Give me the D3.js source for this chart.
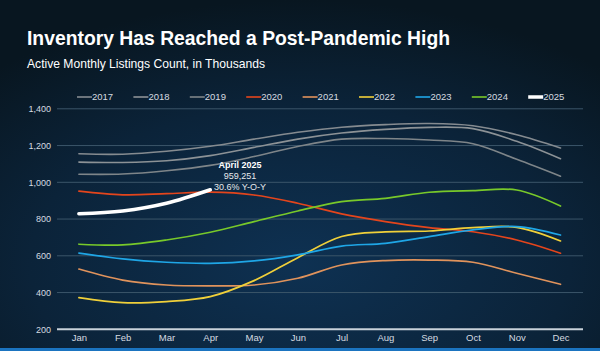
<!DOCTYPE html>
<html>
<head>
<meta charset="utf-8">
<script src="https://cdn.jsdelivr.net/npm/d3@7"></script>
<style>
  html, body { margin: 0; padding: 0; background: #08141e; }
  svg { display: block; font-family: "Liberation Sans", Arial, sans-serif; }
</style>
</head>
<body>
<svg id="chart" width="600" height="351"></svg>
<script>
const months = ["Jan", "Feb", "Mar", "Apr", "May", "Jun", "Jul", "Aug", "Sep", "Oct", "Nov", "Dec"];
const yTicks = [200, 400, 600, 800, 1000, 1200, 1400];
const years = ["2017", "2018", "2019", "2020", "2021", "2022", "2023", "2024", "2025"];

// values in thousands
const v2017 = [1155, 1153, 1169, 1196, 1235, 1272, 1300, 1314, 1320, 1308, 1259, 1187];
const v2018 = [1110, 1108, 1117, 1145, 1190, 1235, 1268, 1288, 1299, 1292, 1223, 1128];
const v2019 = [1044, 1045, 1063, 1092, 1140, 1195, 1235, 1238, 1230, 1210, 1125, 1033];
const v2020 = [952, 932, 938, 946, 931, 886, 828, 786, 753, 731, 686, 614];
const v2021 = [528, 468, 441, 436, 441, 478, 550, 574, 577, 565, 505, 445];
const v2022 = [372, 345, 351, 378, 465, 590, 705, 730, 735, 753, 755, 681];
const v2023 = [615, 583, 565, 559, 572, 605, 653, 668, 704, 741, 759, 713];
const v2024 = [663, 659, 686, 728, 786, 844, 895, 913, 946, 955, 958, 871];
const v2025 = [829, 844, 886, 959.251];

const seriesValues = [v2017, v2018, v2019, v2020, v2021, v2022, v2023, v2024, v2025];
const colors = ["#858b90", "#8c9296", "#7e8589", "#e4451c", "#e0935c", "#f0d03a", "#1fa6e6", "#78c92a", "#ffffff"];
const widths = [1.6, 1.6, 1.6, 1.7, 1.7, 1.7, 1.7, 1.7, 3.6];

const svg = d3.select("#chart");
const width = +svg.attr("width");
const height = +svg.attr("height");

//background
const defs = svg.append("defs");
const grad = defs.append("radialGradient")
  .attr("id", "bg")
  .attr("cx", "50%").attr("cy", "75%").attr("r", "75%");
grad.append("stop").attr("offset", "0%").attr("stop-color", "#0e3152");
grad.append("stop").attr("offset", "60%").attr("stop-color", "#0b2339");
grad.append("stop").attr("offset", "100%").attr("stop-color", "#081620");
svg.append("rect").attr("width", width).attr("height", height).attr("fill", "url(#bg)");
svg.append("rect").attr("x", 0).attr("y", 348).attr("width", width).attr("height", 3).attr("fill", "#1b74c0");

//titles
svg.append("text")
  .attr("x", 27).attr("y", 45)
  .attr("fill", "#ffffff")
  .attr("font-size", "21px")
  .attr("font-weight", "bold")
  .attr("textLength", 423)
  .attr("lengthAdjust", "spacingAndGlyphs")
  .text("Inventory Has Reached a Post-Pandemic High");
svg.append("text")
  .attr("x", 27).attr("y", 68)
  .attr("fill", "#ffffff")
  .attr("font-size", "13px")
  .attr("textLength", 238)
  .attr("lengthAdjust", "spacingAndGlyphs")
  .text("Active Monthly Listings Count, in Thousands");

//scales
const plotLeft = 57, plotRight = 583;
const x = d3.scalePoint().domain(months).range([78.9, 560.5]);
const y = d3.scaleLinear().domain([200, 1400]).range([329.3, 108.8]);

//grid
svg.append("g")
  .selectAll("line")
  .data(yTicks.filter(t => t > 200))
  .join("line")
  .attr("x1", plotLeft).attr("x2", plotRight)
  .attr("y1", d => y(d)).attr("y2", d => y(d))
  .attr("stroke", "#3b5569")
  .attr("stroke-width", 1);

svg.append("line")
  .attr("x1", plotLeft).attr("x2", plotRight)
  .attr("y1", y(200)).attr("y2", y(200))
  .attr("stroke", "#c9d2da")
  .attr("stroke-width", 2);

//y axis labels
const yAxis = svg.append("g")
  .attr("transform", `translate(51,0)`)
  .call(d3.axisLeft(y).tickValues(yTicks).tickSize(0).tickPadding(0).tickFormat(d3.format(",")));
yAxis.select(".domain").remove();
yAxis.selectAll("text").attr("fill", "#d6dbe0").attr("font-size", "9px").attr("font-family", "Liberation Sans, Arial, sans-serif");

//x axis labels
const xAxis = svg.append("g")
  .attr("transform", `translate(0,${y(200) + 5})`)
  .call(d3.axisBottom(x).tickSize(0).tickPadding(0));
xAxis.select(".domain").remove();
xAxis.selectAll("text").attr("fill", "#d6dbe0").attr("font-size", "9.5px").attr("font-family", "Liberation Sans, Arial, sans-serif");

//lines
const line = d3.line()
  .x((d, i) => x(months[i]))
  .y(d => y(d))
  .curve(d3.curveCatmullRom.alpha(0.5));

svg.append("g")
  .selectAll("path")
  .data(seriesValues)
  .join("path")
  .attr("d", d => line(d))
  .attr("fill", "none")
  .attr("stroke", (d, i) => colors[i])
  .attr("stroke-width", (d, i) => widths[i])
  .attr("stroke-linecap", "round");

//legend
const legend = svg.append("g")
  .selectAll("g")
  .data(years)
  .join("g")
  .attr("transform", (d, i) => `translate(${77 + i * 56.4},97)`);
legend.append("line")
  .attr("x1", 0).attr("x2", 15)
  .attr("stroke", (d, i) => colors[i])
  .attr("stroke-width", (d, i) => i === 8 ? 3.5 : 1.6);
legend.append("text")
  .attr("x", 15).attr("y", 3.3)
  .attr("fill", "#d6dbe0")
  .attr("font-size", "9.5px")
  .text(d => d);

//annotation
const ax = 240;
svg.append("text")
  .attr("x", ax).attr("y", 168)
  .attr("text-anchor", "middle")
  .attr("fill", "#ffffff")
  .attr("font-size", "9px")
  .attr("font-weight", "bold")
  .text("April 2025");
svg.append("text")
  .attr("x", ax).attr("y", 179)
  .attr("text-anchor", "middle")
  .attr("fill", "#e6e9ec")
  .attr("font-size", "9px")
  .text("959,251");
svg.append("text")
  .attr("x", ax).attr("y", 189.5)
  .attr("text-anchor", "middle")
  .attr("fill", "#e6e9ec")
  .attr("font-size", "9px")
  .text("30.6% Y-O-Y");
</script>
</body>
</html>
